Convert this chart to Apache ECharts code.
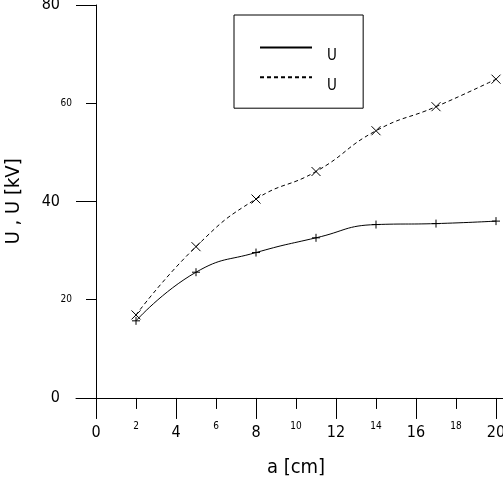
<!DOCTYPE html>
<html>
<head>
<meta charset="utf-8">
<script src="https://cdn.jsdelivr.net/npm/echarts@6/dist/echarts.min.js"></script>
<style>
html, body { margin: 0; padding: 0; background: #fff; }
#main { width: 503px; height: 479px; }
</style>
</head>
<body>
<div id="main"></div>
<script>
// data
var aValues = [2, 5, 8, 11, 14, 17, 20];
var u1Values = [15.7, 25.6, 29.6, 32.6, 35.3, 35.5, 36.0];
var u2Values = [16.9, 30.8, 40.5, 46.1, 54.4, 59.3, 64.9];
var xMajorTicks = [0, 4, 8, 12, 16, 20];
var xMinorTicks = [2, 6, 10, 14, 18];
var yMajorTicks = [0, 40, 80];
var yMinorTicks = [20, 60];
var seriesNames = ['U', 'U '];

var FONT = '"DejaVu Sans Condensed", "DejaVu Sans", sans-serif';

function pairs(xs, ys) {
	var out = [];
	for (var i = 0; i < xs.length; i++) {
		out.push([xs[i], ys[i]]);
	}
	return out;
}

var myChart = echarts.init(document.getElementById('main'), null, { renderer: 'canvas' });

// axes sit on zero, grid edge is 1 unit / 4 units beyond so the lines overhang
var xBase = {
	type: 'value',
	min: -1,
	max: 20.35,
	position: 'bottom',
	nameMoveOverlap: false,
	axisLine: { onZero: true, lineStyle: { color: '#000', width: 1 } },
	splitLine: { show: false }
};
var yBase = {
	type: 'value',
	min: -4,
	max: 80,
	position: 'left',
	nameMoveOverlap: false,
	axisLine: { onZero: true, lineStyle: { color: '#000', width: 1 } },
	splitLine: { show: false }
};

var option = {
	animation: false,
	backgroundColor: '#fff',
	grid: { left: 76, right: 0, top: 5, bottom: 61.4, containLabel: false, outerBoundsMode: 'none' },
	legend: {
		orient: 'vertical',
		left: 234,
		top: 15,
		padding: [27, 22, 15, 25],
		itemWidth: 52,
		itemHeight: 14,
		itemGap: 8,
		borderColor: '#000',
		borderWidth: 1,
		selectedMode: false,
		itemStyle: { color: 'transparent', borderColor: 'transparent', borderWidth: 0 },
		formatter: '{s|{name}}',
		textStyle: {
			fontFamily: FONT, fontSize: 15, color: '#000', padding: [0, 0, 0, 10],
			rich: { s: { fontFamily: FONT, fontSize: 15, color: '#000', lineHeight: 32, verticalAlign: 'bottom' } }
		},
		data: seriesNames
	},
	xAxis: [
		Object.assign({}, xBase, {
			name: 'a [cm]',
			nameLocation: 'middle',
			nameGap: 40,
			nameTextStyle: { fontFamily: FONT, fontSize: 20, color: '#000', padding: [0, 0, 0, 13] },
			axisTick: { show: true, length: 21, customValues: xMajorTicks, lineStyle: { color: '#000' } },
			axisLabel: { show: true, customValues: xMajorTicks, margin: 7, fontFamily: FONT, fontSize: 16, color: '#000' }
		}),
		Object.assign({}, xBase, {
			axisLine: { show: false, onZero: true },
			axisTick: { show: true, length: 11, customValues: xMinorTicks, lineStyle: { color: '#000' } },
			axisLabel: { show: true, customValues: xMinorTicks, margin: 4, fontFamily: FONT, fontSize: 10, color: '#000' }
		})
	],
	yAxis: [
		Object.assign({}, yBase, {
			name: 'U , U [kV]',
			nameLocation: 'middle',
			nameGap: 52,
			nameRotate: 90,
			nameTextStyle: { fontFamily: FONT, fontSize: 20, color: '#000', padding: [0, 0, 0, 20] },
			axisTick: { show: true, length: 20, customValues: yMajorTicks, lineStyle: { color: '#000' } },
			axisLabel: { show: true, customValues: yMajorTicks, margin: 16, fontFamily: FONT, fontSize: 16, color: '#000' }
		}),
		Object.assign({}, yBase, {
			axisLine: { show: false, onZero: true },
			axisTick: { show: true, length: 10, customValues: yMinorTicks, lineStyle: { color: '#000' } },
			axisLabel: { show: true, customValues: yMinorTicks, margin: 4, fontFamily: FONT, fontSize: 10, color: '#000' }
		})
	],
	series: [{
		name: seriesNames[0],
		type: 'line',
		smooth: 0.5,
		symbol: 'path://M0,5L10,5M5,0L5,10',
		symbolSize: 8,
		lineStyle: { color: '#000', width: 1, type: 'solid' },
		itemStyle: { color: 'transparent', borderColor: '#000', borderWidth: 1 },
		data: pairs(aValues, u1Values)
	}, {
		name: seriesNames[1],
		type: 'line',
		smooth: 0.5,
		symbol: 'path://M0,0L10,10M10,0L0,10',
		symbolSize: 9,
		lineStyle: { color: '#000', width: 1, type: [4, 3] },
		itemStyle: { color: 'transparent', borderColor: '#000', borderWidth: 1 },
		data: pairs(aValues, u2Values)
	}]
};

myChart.setOption(option);
</script>
</body>
</html>
